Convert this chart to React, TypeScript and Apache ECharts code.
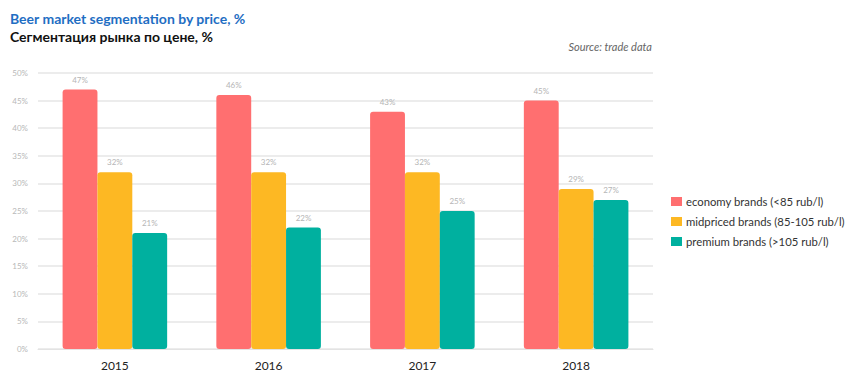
import React, { useEffect, useRef } from "react";
import * as echarts from "echarts";

const years = ["2015", "2016", "2017", "2018"];
const economy = [47, 46, 43, 45];
const midpriced = [32, 32, 32, 29];
const premium = [21, 22, 25, 27];
const seriesNames = [
  "economy brands (<85 rub/l)",
  "midpriced brands (85-105 rub/l)",
  "premium brands (>105 rub/l)",
];
const colors = ["#ff6f70", "#fdb823", "#00b09f"];

const FONT = "Lato, 'Noto Sans', sans-serif";

export default function App() {
  const ref = useRef<HTMLDivElement>(null);
  useEffect(() => {
    if (!ref.current) return;
    const chart = echarts.init(ref.current, undefined, { renderer: "svg" });
    const mk = (name: string, data: number[], color: string) => ({
      name,
      type: "bar",
      data,
      barGap: "0%",
      barCategoryGap: "32%",
      itemStyle: { color, borderRadius: 3 },
      label: {
        show: true,
        position: "top",
        distance: 6,
        formatter: "{c}%",
        color: "#b5b5b5",
        fontSize: 8,
        fontFamily: FONT,
      },
    });
    chart.setOption({
      animation: false,
      textStyle: { fontFamily: FONT },
      graphic: [
        {
          type: "text",
          left: 10,
          top: 11,
          style: {
            text: "Beer market segmentation by price, %",
            fill: "#1f6ec3",
            font: `bold 14px ${FONT}`,
          },
        },
        {
          type: "text",
          left: 10,
          top: 29,
          style: {
            text: "Сегментация рынка по цене, %",
            fill: "#111",
            font: `bold 14px ${FONT}`,
          },
        },
        {
          type: "text",
          right: 198,
          top: 41,
          style: {
            text: "Source: trade data",
            fill: "#666",
            font: `italic 11px ${FONT}`,
          },
        },
      ],
      legend: {
        orient: "vertical",
        left: 666,
        top: 191,
        itemWidth: 11,
        itemHeight: 9,
        itemGap: 9,
        icon: "rect",
        textStyle: { fontSize: 11.3, color: "#333", fontFamily: FONT, padding: [0, 0, 0, -1] },
        data: seriesNames,
      },
      grid: { left: 38, right: 197, top: 73, bottom: 30, containLabel: false },
      xAxis: {
        type: "category",
        data: years,
        axisLine: { show: true, lineStyle: { color: "#e3e3e3" } },
        axisTick: { show: false },
        axisLabel: { color: "#222", fontSize: 12, margin: 10, fontFamily: FONT },
      },
      yAxis: {
        type: "value",
        min: 0,
        max: 50,
        interval: 5,
        axisLine: { show: false },
        axisTick: { show: false },
        splitLine: { lineStyle: { color: "#ececec", width: 2 } },
        axisLabel: {
          formatter: "{value}%",
          color: "#b8b8b8",
          fontSize: 8,
          margin: 10,
          fontFamily: FONT,
        },
      },
      series: [
        mk(seriesNames[0], economy, colors[0]),
        mk(seriesNames[1], midpriced, colors[1]),
        mk(seriesNames[2], premium, colors[2]),
      ],
    });
    return () => chart.dispose();
  }, []);
  return (
    <div
      ref={ref}
      style={{ position: "fixed", left: 0, top: 0, width: 850, height: 379, background: "#fff" }}
    />
  );
}
